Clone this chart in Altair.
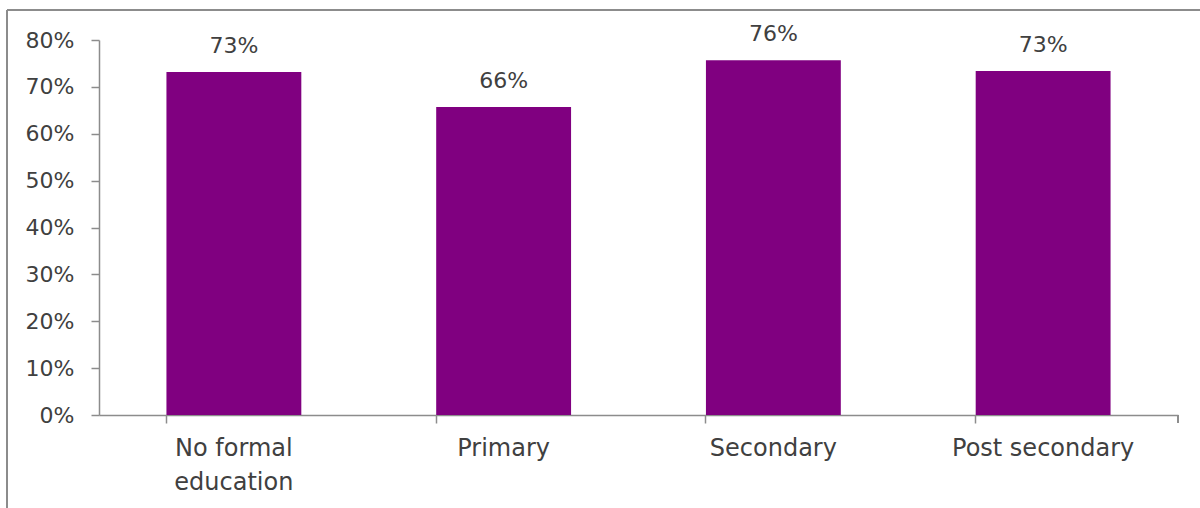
import altair as alt
import pandas as pd

categories = ["No formal education", "Primary", "Secondary", "Post secondary"]
values = [73.2, 65.7, 75.7, 73.4]
labels = ["73%", "66%", "76%", "73%"]

df = pd.DataFrame({"cat": categories, "val": values, "lab": labels})

W, H = 1079, 375
FONT = "DejaVu Sans"
TXT = "#404040"
GRID = "#8c8c8c"

x = alt.X("cat:N", sort=categories, title=None,
          scale=alt.Scale(paddingInner=0.5, paddingOuter=0.25),
          axis=alt.Axis(labelAngle=0, bandPosition=0, domainColor=GRID, domainWidth=1.5,
                        tickColor=GRID, tickWidth=1.5, tickSize=8,
                        labelFont=FONT, labelFontSize=24, labelLimit=400,
                        labelColor=TXT, labelPadding=13,
                        labelLineHeight=34,
                        labelExpr="datum.label == 'No formal education' ? ['No formal', 'education'] : datum.label"))

bars = alt.Chart(df).mark_bar(color="#800080").encode(
    x=x,
    y=alt.Y("val:Q", title=None,
            scale=alt.Scale(domain=[0, 80], nice=False),
            axis=alt.Axis(values=[0, 10, 20, 30, 40, 50, 60, 70, 80], format="d",
                          labelExpr="datum.value + '%'", grid=False,
                          domainColor=GRID, domainWidth=1.5, tickColor=GRID, tickWidth=1.5,
                          tickSize=8, labelFont=FONT, labelFontSize=22,
                          labelColor=TXT, labelPadding=17)),
)

text = alt.Chart(df).mark_text(font=FONT, fontSize=22, color=TXT, dy=-26).encode(
    x=alt.X("cat:N", sort=categories),
    y="val:Q",
    text="lab:N",
)

end_tick = alt.Chart(df).mark_rule(color=GRID, strokeWidth=1.5).encode(
    x=alt.value(W), y=alt.value(H), y2=alt.value(H + 8)
)
frame_left = alt.Chart(df).mark_rule(color=GRID, strokeWidth=2).encode(
    x=alt.value(-92), y=alt.value(-30), y2=alt.value(H + 100)
)
frame_top = alt.Chart(df).mark_rule(color=GRID, strokeWidth=2).encode(
    x=alt.value(-92), x2=alt.value(W + 30), y=alt.value(-30)
)

chart = alt.layer(bars, text, end_tick, frame_left, frame_top).properties(
    width=W, height=H,
    padding={"left": 99, "top": 40, "right": 22, "bottom": 93},
    autosize=alt.AutoSizeParams(type="none"),
    background="white",
).configure_view(stroke=None, clip=False)

chart.save("out.html", embed_options={"renderer": "svg", "actions": False})
